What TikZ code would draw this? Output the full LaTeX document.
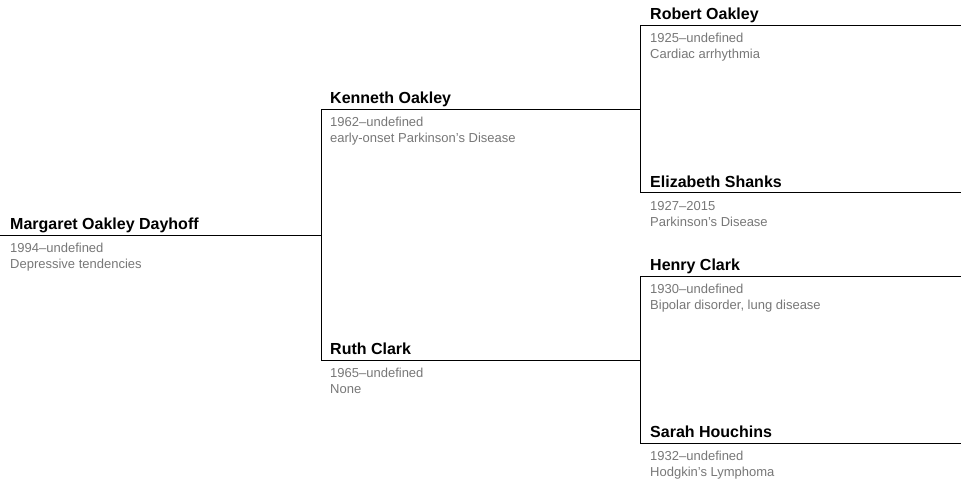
\documentclass[tikz,border=0pt]{standalone}
\usepackage{fontspec}
\setmainfont{Liberation Sans}
\usepackage{tikz}
\definecolor{infogray}{HTML}{777777}

\begin{document}
\begin{tikzpicture}[x=1pt, y=-1pt,
  personname/.style={anchor=base west, inner sep=0pt, font=\bfseries\fontsize{16}{18}\selectfont},
  persondetail/.style={anchor=base west, inner sep=0pt, text=infogray, font=\fontsize{13}{15}\selectfont},
  tree/.style={line width=1pt, black}]
\useasboundingbox (0,0) rectangle (963,489);

% Line starts
\coordinate (margaret) at (0,235);
\coordinate (kenneth) at (321,110);
\coordinate (ruth) at (321,360);
\coordinate (robert) at (640,26);
\coordinate (elizabeth) at (640,193);
\coordinate (henry) at (640,276);
\coordinate (sarah) at (640,443);
\coordinate (edge) at (961,0);

% Names
\node[personname] (margaretname) at ([shift={(10,-6)}]margaret) {Margaret Oakley Dayhoff};
\node[personname] (kennethname) at ([shift={(9,-6)}]kenneth) {Kenneth Oakley};
\node[personname] (ruthname) at ([shift={(9,-6)}]ruth) {Ruth Clark};
\node[personname] (robertname) at ([shift={(10,-6)}]robert) {Robert Oakley};
\node[personname] (elizabethname) at ([shift={(10,-6)}]elizabeth) {Elizabeth Shanks};
\node[personname] (henryname) at ([shift={(10,-6)}]henry) {Henry Clark};
\node[personname] (sarahname) at ([shift={(10,-6)}]sarah) {Sarah Houchins};

% Dates
\node[persondetail] (margaretdates) at ([shift={(10,17)}]margaret) {1994–undefined};
\node[persondetail] (kennethdates) at ([shift={(9,17)}]kenneth) {1962–undefined};
\node[persondetail] (ruthdates) at ([shift={(9,17)}]ruth) {1965–undefined};
\node[persondetail] (robertdates) at ([shift={(10,17)}]robert) {1925–undefined};
\node[persondetail] (elizabethdates) at ([shift={(10,17)}]elizabeth) {1927–2015};
\node[persondetail] (henrydates) at ([shift={(10,17)}]henry) {1930–undefined};
\node[persondetail] (sarahdates) at ([shift={(10,17)}]sarah) {1932–undefined};

% Illnesses
\node[persondetail] (margaretill) at ([shift={(10,33)}]margaret) {Depressive tendencies};
\node[persondetail] (kennethill) at ([shift={(9,33)}]kenneth) {early-onset Parkinson’s Disease};
\node[persondetail] (ruthill) at ([shift={(9,33)}]ruth) {None};
\node[persondetail] (robertill) at ([shift={(10,33)}]robert) {Cardiac arrhythmia};
\node[persondetail] (elizabethill) at ([shift={(10,33)}]elizabeth) {Parkinson’s Disease};
\node[persondetail] (henryill) at ([shift={(10,33)}]henry) {Bipolar disorder, lung disease};
\node[persondetail] (sarahill) at ([shift={(10,33)}]sarah) {Hodgkin’s Lymphoma};

% Person lines
\draw[tree] (margaret) -- (kenneth |- margaret);
\draw[tree] (kenneth) -- (robert |- kenneth);
\draw[tree] (ruth) -- (henry |- ruth);
\draw[tree] (robert) -- (robert -| edge);
\draw[tree] (elizabeth) -- (elizabeth -| edge);
\draw[tree] (henry) -- (henry -| edge);
\draw[tree] (sarah) -- (sarah -| edge);

% Parent links
\draw[tree] (kenneth) -- (ruth);
\draw[tree] (robert) -- (elizabeth);
\draw[tree] (henry) -- (sarah);

\end{tikzpicture}
\end{document}
